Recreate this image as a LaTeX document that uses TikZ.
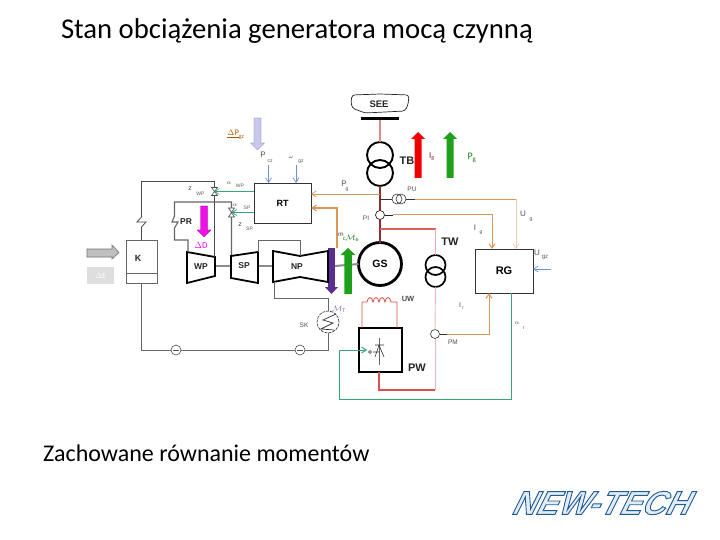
\documentclass[tikz,border=0pt]{standalone}
\usepackage{fontspec}
\setmainfont{Carlito}
\newfontfamily\lab{Liberation Sans}
\newfontfamily\logof[FakeSlant=0.5]{Liberation Sans}
\usetikzlibrary{arrows.meta,shapes.geometric}
\definecolor{pinkl}{HTML}{E08A8A}
\definecolor{redl}{HTML}{D8504F}
\definecolor{darkr}{HTML}{8E2A32}
\definecolor{orl}{HTML}{DC9658}
\definecolor{orp}{HTML}{EBCFB4}
\definecolor{grnl}{HTML}{35A874}
\definecolor{blul}{HTML}{6F94CC}
\definecolor{gr}{HTML}{1FA01A}
\definecolor{purp}{HTML}{5C2D91}
\definecolor{logob}{HTML}{1C5C9A}
\definecolor{mag}{HTML}{F010E8}
\definecolor{lav}{HTML}{C8C8F0}
\definecolor{redb}{HTML}{F00000}
\tikzset{
 x=1pt,y=-1pt,
 every node/.style={inner sep=0pt,outer sep=0pt},
 boxn/.style={draw=black!80,line width=.9pt,fill=white,font=\lab\bfseries\fontsize{9}{9}\selectfont},
 lbl/.style={font=\lab\bfseries\fontsize{11}{11}\selectfont,text=black!85},
 sm/.style={font=\lab\fontsize{6.5}{7}\selectfont,text=black!70},
 sub/.style={font=\lab\fontsize{5}{5}\selectfont,text=black!65},
 tur/.style={draw=black,line width=1.8pt,fill=white,line join=miter},
 pipe/.style={draw=black!70,line width=.8pt},
 shaft/.style={draw=black!45,line width=2pt},
 op/.style={-{Straight Barb[length=4.5pt,width=6pt]}},
 blockar/.style={line width=.3pt},
}
\newcommand{\blockdown}[5]{\fill[#5,draw=#5!60!black,blockar] (#1-#4/2,#2) -- (#1+#4/2,#2) -- (#1+#4/2,#3-7) -- (#1+#4,#3-7) -- (#1,#3) -- (#1-#4,#3-7) -- (#1-#4/2,#3-7) -- cycle;}
\newcommand{\blockup}[5]{\fill[#5,blockar] (#1-#4/2,#2) -- (#1+#4/2,#2) -- (#1+#4/2,#3+7) -- (#1+#4,#3+7) -- (#1,#3) -- (#1-#4,#3+7) -- (#1-#4/2,#3+7) -- cycle;}
\begin{document}
\begin{tikzpicture}
\useasboundingbox (0,0) rectangle (720,540);
\fill[white] (0,0) rectangle (720,540);
% titles
\node[font=\fontsize{28.7}{32}\selectfont,anchor=west] (title) at (61,31) {Stan obciążenia generatora mocą czynną};
\node[font=\fontsize{24}{28}\selectfont,anchor=west] (bottom) at (43,453) {Zachowane równanie momentów};
% logo
\node[anchor=center,text=logob!12,font=\logof\bfseries\fontsize{33}{33}\selectfont] (logo) at (599,503) {\special{pdf:code 2 Tr 0.9 w 0.11 0.36 0.60 RG}NEW-TECH\special{pdf:code 0 Tr}};
% SEE
\draw[black!85,line width=.7pt,rounded corners=3pt] (352,95) -- (380,94) -- (409,95) -- (408,105) -- (405,111) -- (385,112) -- (365,113) -- (352,108) -- (351,101) -- cycle;
\node[lbl,font=\lab\bfseries\fontsize{9.5}{9}\selectfont] (see) at (379,104) {SEE};
\node[fill=black,minimum width=38pt,minimum height=3pt] (bus) at (380,118.5) {};
% TB
\node[circle,draw=black,line width=1.9pt,minimum size=26pt] (tb1) at (380,155) {};
\node[circle,draw=black,line width=1.9pt,minimum size=26pt] (tb2) at (380,173) {};
\draw[pinkl,line width=1.2pt] (bus) -- (tb1.north);
\node[lbl] (tb) at (407,161) {TB};
% GS
\node[circle,draw=black,line width=2.8pt,fill=white,minimum size=43pt,font=\lab\bfseries\fontsize{10.5}{10}\selectfont] (gs) at (380,264) {GS};
\draw[darkr,line width=1.1pt] (tb2.south) -- (gs.north);
% block arrows top
\blockup{418}{178}{132}{7}{redb}
\blockup{450}{178}{132}{7}{gr}
\node[font=\fontsize{9}{9}\selectfont,text=darkr] (ig) at (432,157) {$\mathrm{I}_{\mathrm g}$};
\node[font=\fontsize{10}{10}\selectfont,text=gr!80!black] (pg) at (472,158) {$\mathrm{P}_{\mathrm g}$};
% RT
\node[boxn,minimum width=57pt,minimum height=40pt] (rt) at (282.5,203) {RT};
\coordinate (pcz) at (268.5,165); \coordinate (wgz) at (296,165);
\draw[blul,line width=.7pt,op] (pcz) -- (pcz |- rt.north);
\draw[blul,line width=.7pt,op] (wgz) -- (wgz |- rt.north);
\node[sm,font=\lab\fontsize{8}{8}\selectfont] (pczl) at (263,155) {P};
\node[sub] (pczs) at (270,161) {cz};
\node[sm] (wl) at (291,157) {$\omega$};
\node[sub] (wgs) at (301,162) {gz};
\blockdown{257.5}{118}{150}{7}{lav}
\node[font=\fontsize{8.5}{9}\selectfont,text=orange!70!black,anchor=center] (dpgz) at (236,135) {$\underline{\Delta\mathrm{P}}_{\mathrm{gz}}$};
% P_g and m to RT
\coordinate (pjunc) at (380,194);
\draw[orl,line width=.7pt,op] (pjunc) -- (pjunc -| rt.east);
\node[sm,font=\lab\fontsize{8}{8}\selectfont] (pql) at (344,184) {P};
\node[sub] (pqs) at (347,190) {g};
\node[fill=purp,minimum width=7pt,minimum height=39pt] (bar) at (331.5,267.5) {};
\coordinate (mtop) at (337,208);
\draw[orl,line width=1.1pt,op] (337,248) -- (mtop) -- (mtop -| rt.east);
\node[font=\fontsize{7}{8}\selectfont,text=black!70] (ml) at (341,235) {m};
\node[font=\fontsize{8}{8}\selectfont,text=gr!70!black] (mel) at (351,238) {$\scriptstyle\mathrm{c}$$\mathcal{M}_{\mathrm e}$};
% shaft
\draw[shaft] (215,266) -- (231,266);
\draw[shaft] (258,266) -- (273,266);
\draw[shaft] (335,266) -- (gs.west);
% turbines
\path[tur] (187,252) -- (215,257) -- (215,276) -- (187,283) -- cycle;
\path[tur] (231,256) -- (258,252) -- (258,283) -- (231,278) -- cycle;
\path[tur] (273,251) -- (300,256) -- (328,251) -- (328,282) -- (300,277) -- (273,282) -- cycle;
\node[lbl,font=\lab\bfseries\fontsize{8.5}{9}\selectfont] (wp) at (201,267) {WP};
\node[lbl,font=\lab\bfseries\fontsize{8.5}{9}\selectfont] (sp) at (244,266) {SP};
\node[lbl,font=\lab\bfseries\fontsize{8.5}{9}\selectfont] (np) at (297,267) {NP};
\blockup{348}{294}{248}{7.5}{gr}
\fill[purp] (325,287) -- (338,287) -- (331.5,294) -- cycle;
\node[font=\fontsize{8}{8}\selectfont,text=purp!70] (mt) at (339,309) {$\mathcal{M}_{\mathrm T}$};
% K
\node[boxn,draw=black!60,minimum width=31pt,minimum height=43pt] (k) at (141.5,261.5) {};
\node[lbl,font=\lab\bfseries\fontsize{9}{9}\selectfont] (kl) at (138,258) {K};
\draw[black!60,line width=.9pt] (k.west |- 0,273) -- (k.east |- 0,273);
\fill[black!25!white,draw=black!55,line width=.6pt] (87,249) -- (112,249) -- (112,245) -- (119,252.5) -- (112,259) -- (112,257) -- (87,257) -- cycle;
\node[fill=black!13,minimum width=27pt,minimum height=17pt,text=white,font=\fontsize{8}{8}\selectfont] (de) at (100.5,275.5) {$\Delta\mathrm{E}$};
% valves
\coordinate (vw) at (214.5,191.5);
\coordinate (vs) at (231.5,212.5);
\draw[pipe] (k.north) -- (141.5,227) -- (146,222) -- (137,222) -- (141.5,217) -- (141.5,181.5) -- (214.5,181.5) -- (214.5,257);
\draw[pipe,draw=black!60,line width=1.1pt] (231.5,255) -- (231.5,202) -- (174.5,202) -- (174.5,216) -- (172,222) -- (178,222) -- (174.5,228) -- (174.5,240) -- (188,240) -- (188,252);
\draw[black!70,line width=.6pt,fill=white] (211.5,187.5) -- (217.5,187.5) -- (211.5,195.5) -- (217.5,195.5) -- cycle;
\draw[black!70,line width=.6pt,fill=white] (228.5,208) -- (234.5,208) -- (228.5,217) -- (234.5,217) -- cycle;
\draw[grnl,line width=.6pt,op] (rt.west |- vw) -- (vw);
\draw[grnl,line width=.8pt,op] (rt.west |- vs) -- (vs);
\node[sm,font=\lab\fontsize{7}{7}\selectfont] (zw) at (190,189) {z};
\node[sub] (zws) at (200.5,193.5) {WP};
\node[sm] (aw) at (229,183) {$\alpha$};
\node[sub] (aws) at (240,186) {WP};
\node[sm] (as) at (235,205) {$\alpha$};
\node[sub] (ass) at (247,208) {SP};
\node[sm,font=\lab\fontsize{7}{7}\selectfont] (zs) at (240,225) {z};
\node[sub] (zss) at (249.5,228.5) {SP};
\node[lbl,font=\lab\bfseries\fontsize{8.5}{9}\selectfont] (pr) at (186,222) {PR};
\blockdown{204}{206}{237}{7}{mag}
\node[font=\fontsize{9}{9}\selectfont,text=mag] (dd) at (201,245) {$\Delta\mathrm{D}$};
% low pressure connections
\coordinate (cross1) at (258,240); \coordinate (cross2) at (300,240);
\draw[black!60,line width=.7pt] (258,252) -- (cross1) -- (cross2) -- (300,256);
% condenser
\node[circle,draw=black!80,dashed,dash pattern=on 3pt off 1pt,line width=.6pt,minimum size=22pt] (sk) at (328,322) {};
\draw[black!80,line width=.7pt] (336,314) -- (323,320) -- (333,323) -- (321,329) -- (334,330);
\node[sm] (skl) at (304,325) {SK};
\draw[black!60,line width=1pt] (274,282) -- (274,298) -- (328,298) -- (sk.north);
\node[circle,draw=black!70,line width=.6pt,fill=white,minimum size=10pt] (p1) at (176,350) {};
\node[circle,draw=black!70,line width=.6pt,fill=white,minimum size=10pt] (p2) at (300,350) {};
\draw[black!60,line width=.9pt] (sk.south) -- (328,350) -- (p2) -- (p1) -- (141.5,350) -- (k.south);
\draw[black!70,line width=.5pt] (173,350) -- (179,350) (297,350) -- (303,350);
% PU
\node[circle,draw=black!80,line width=.6pt,minimum size=10pt] (pu1) at (397,199) {};
\node[circle,draw=black!80,line width=.6pt,minimum size=10pt] (pu2) at (401,199) {};
\coordinate (puj) at (380,199); \coordinate (puo) at (415,199);
\draw[black!80,line width=.6pt] (puj) -- (pu1.west) (pu2.east) -- (puo);
\node[sm] (pul) at (412,189) {PU};
% PI
\node[circle,draw=black!85,line width=.7pt,fill=white,minimum size=9pt] (pi) at (380,215) {};
\coordinate (pio) at (393,215);
\draw[black!85,line width=.6pt] (pi) -- (pio);
\node[sm] (pil) at (366,218) {PI};
% RG
\node[boxn,draw=black!80,line width=.7pt,minimum width=58pt,minimum height=44pt,font=\lab\bfseries\fontsize{11}{11}\selectfont] (rg) at (504,271) {RG};
\draw[orp,line width=.8pt,op] (516,199) -- (516,249);
\draw[orl,line width=.8pt] (puo) -- (516,199);
\draw[orl,line width=1pt,op] (pio) -- (492,215) -- (492,249);
\node[sm,font=\lab\fontsize{8}{8}\selectfont] (ugl) at (523,214) {U};
\node[sub] (ugs) at (531,220) {g};
\node[sm,font=\lab\fontsize{8}{8}\selectfont] (igl) at (475,228) {I};
\node[sub] (igs) at (481,233) {g};
\node[sm,font=\lab\fontsize{8}{8}\selectfont] (ugz) at (537,253) {U};
\node[sub,font=\lab\fontsize{6}{6}\selectfont] (ugzs) at (545,258) {gz};
\coordinate (ugzin) at (551,269);
\draw[blul,line width=.7pt,op] (ugzin) -- (533,269);
% TW
\node[circle,draw=black,line width=1.7pt,minimum size=20pt] (tw1) at (435.5,265) {};
\node[circle,draw=black,line width=1.7pt,minimum size=20pt] (tw2) at (435.5,277) {};
\coordinate (twj) at (380,229); \coordinate (twc) at (435.5,229);
\draw[redl!80!pinkl,line width=1.1pt] (twj) -- (twc);
\draw[pinkl!70!white,line width=.8pt] (twc) -- (tw1.north);
\node[lbl] (twl) at (450,242) {TW};
% PW
\node[draw=black,line width=1.7pt,fill=white,minimum width=43pt,minimum height=44pt] (pw) at (380.5,350) {};
\node[lbl] (pwl) at (417,368) {PW};
\node[lbl,font=\lab\bfseries\fontsize{7.5}{8}\selectfont,text=black!70] (uwl) at (408,299) {UW};
\node[sm] (pml) at (453,342) {PM};
% PM
\node[circle,draw=black!80,line width=.6pt,fill=white,minimum size=9pt] (pm) at (435,334) {};
\coordinate (cb) at (435,390); \coordinate (cb2) at (379,390);
\draw[pinkl!60!white,line width=.9pt] (tw2.south) -- (pm.north);
\draw[pinkl!60!white,line width=.9pt] (pm.south) -- (cb);
\draw[redl,line width=1.2pt] (cb) -- (cb2) -- (pw.south -| cb2);
\coordinate (pmo) at (447,334);
\draw[black!80,line width=.5pt] (pm.east) -- (pmo);
\draw[orl,line width=1pt,op] (pmo) -- (489,334) -- (489,293);
\node[sm,font=\lab\fontsize{7}{7}\selectfont] (isl) at (460,305) {I};
\node[sub] (iss) at (463,308) {r};
\node[sm] (arl) at (517,323) {$\alpha$};
\node[sub] (ars) at (524,328) {r};
% green control
\coordinate (g1) at (511,399); \coordinate (g2) at (339,399); \coordinate (g3) at (339,350);
\draw[grnl,line width=1pt,op] (rg.south -| g1) -- (g1) -- (g2) -- (g3) -- (367,350);
% thyristor
\draw[black!60,line width=1pt] (379,338) -- (379,365);
\draw[black!80,line width=.6pt] (375,345) -- (384,345) (379,345) -- (375,357) (379,345) -- (384,357) (379,352) -- (373,352);
\node[circle,draw=black!80,line width=.5pt,fill=white,minimum size=3pt] (gate) at (370,352) {};
% UW coil
\coordinate (ua) at (362,328); \coordinate (ub) at (397,328);
\draw[redl,line width=.8pt] (ua) -- (362,302) -- (367,302) .. controls (368,296) and (372,296) .. (373,302) .. controls (374,296) and (378,296) .. (379,302) .. controls (380,296) and (384,296) .. (385,302) .. controls (386,296) and (390,296) .. (391,302) -- (397,302) -- (ub);
\end{tikzpicture}
\end{document}
